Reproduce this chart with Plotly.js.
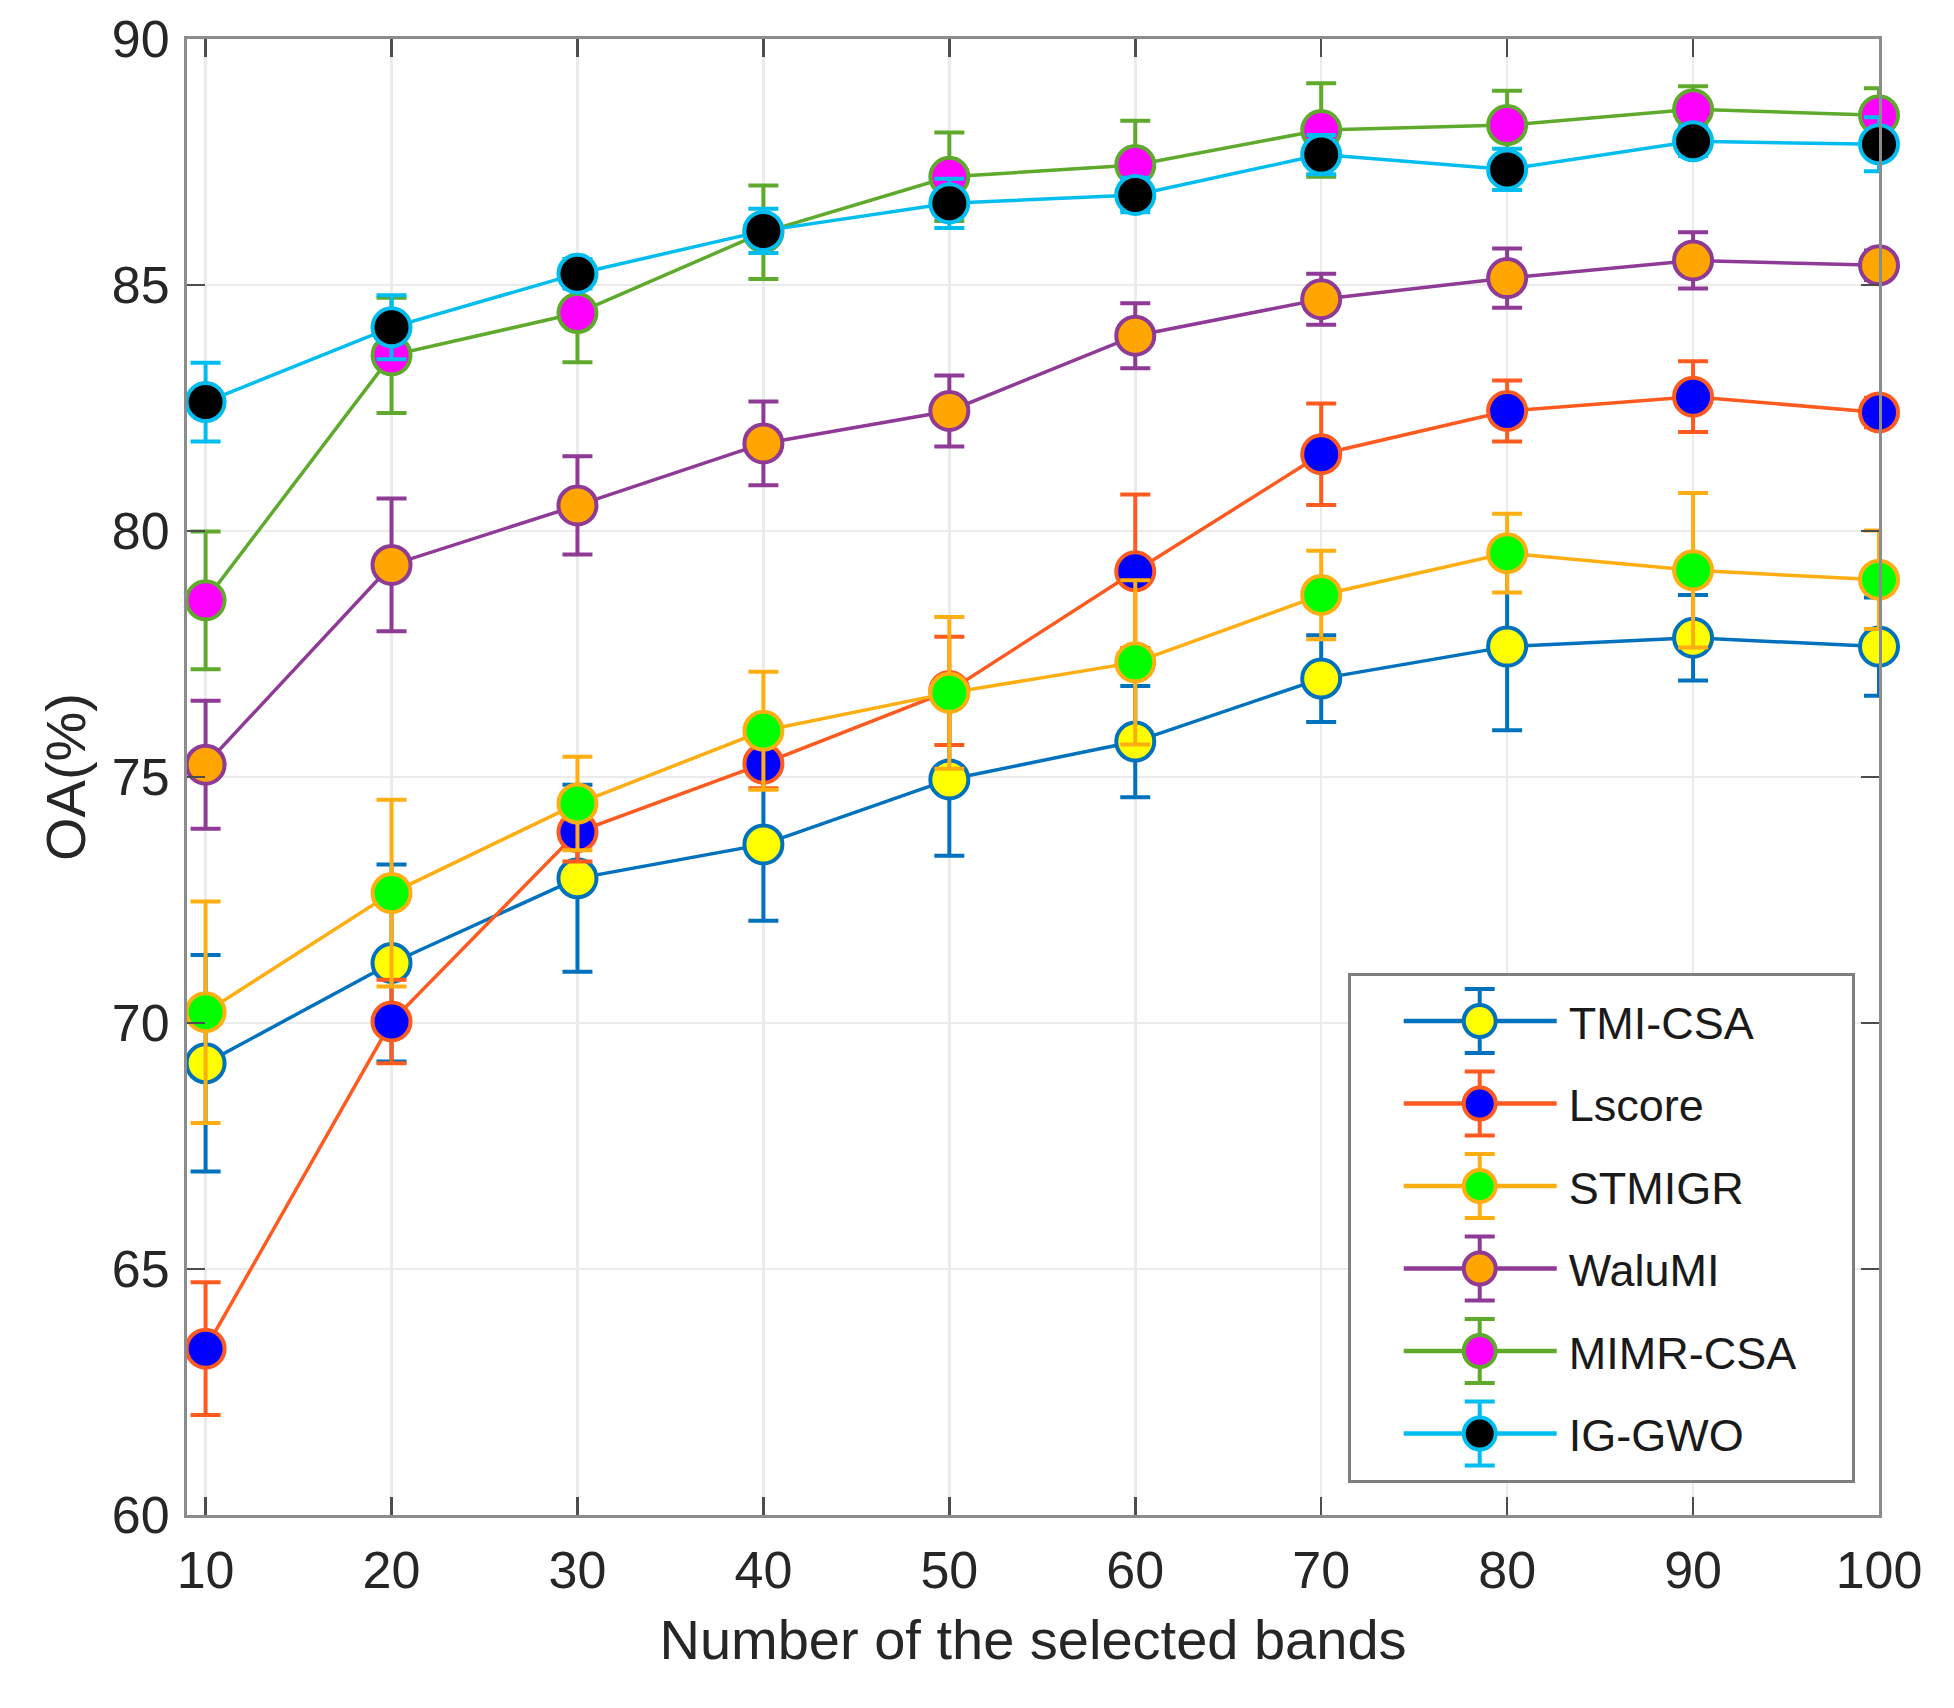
<!DOCTYPE html>
<html>
<head>
<meta charset="utf-8">
<script src="https://cdn.plot.ly/plotly-3.0.1.min.js"></script>
<style>
  html, body { margin: 0; padding: 0; background: #ffffff; }
  #chart { width: 1954px; height: 1708px; }
</style>
</head>
<body>
<div id="chart"></div>
<script>
// Number of selected bands
const bands = [10, 20, 30, 40, 50, 60, 70, 80, 90, 100];

// OA (%) means and standard deviations
const tmiCsa     = [69.18, 71.22, 72.94, 73.63, 74.95, 75.72, 77.00, 77.65, 77.83, 77.65];
const tmiCsaErr  = [2.20, 2.00, 1.90, 1.55, 1.55, 1.13, 0.88, 1.70, 0.87, 1.00];

const lscore     = [63.38, 70.03, 73.88, 75.27, 76.75, 79.18, 81.56, 82.44, 82.73, 82.41];
const lscoreErr  = [1.35, 0.85, 0.60, 0.50, 1.10, 1.56, 1.03, 0.62, 0.72, 0.30];

const stmigr     = [70.22, 72.64, 74.46, 75.94, 76.71, 77.33, 78.70, 79.55, 79.20, 79.01];
const stmigrErr  = [2.25, 1.90, 0.95, 1.20, 1.54, 1.67, 0.90, 0.80, 1.57, 1.00];

const waluMI     = [75.25, 79.31, 80.52, 81.78, 82.44, 83.97, 84.71, 85.14, 85.50, 85.40];
const waluMIErr  = [1.30, 1.35, 1.00, 0.85, 0.72, 0.66, 0.52, 0.60, 0.57, 0.30];

const mimrCsa    = [78.59, 83.57, 84.43, 86.07, 87.20, 87.44, 88.15, 88.25, 88.57, 88.45];
const mimrCsaErr = [1.40, 1.17, 1.00, 0.95, 0.90, 0.90, 0.95, 0.70, 0.47, 0.55];

const igGwo      = [82.62, 84.14, 85.23, 86.10, 86.66, 86.83, 87.65, 87.35, 87.92, 87.86];
const igGwoErr   = [0.80, 0.65, 0.30, 0.45, 0.50, 0.35, 0.40, 0.42, 0.30, 0.55];

const seriesNames = ['TMI-CSA', 'Lscore', 'STMIGR', 'WaluMI', 'MIMR-CSA', 'IG-GWO'];
const xTicks = [10, 20, 30, 40, 50, 60, 70, 80, 90, 100];
const yTicks = [60, 65, 70, 75, 80, 85, 90];

const styles = [
  { line: '#0072BD', fill: '#FFFF00' },
  { line: '#FF5A1F', fill: '#0000FF' },
  { line: '#FFAE12', fill: '#00FF00' },
  { line: '#8E3A96', fill: '#FFA500' },
  { line: '#5FAA2C', fill: '#FF00FF' },
  { line: '#00BDF0', fill: '#000000' }
];

const values = [tmiCsa, lscore, stmigr, waluMI, mimrCsa, igGwo];
const errors = [tmiCsaErr, lscoreErr, stmigrErr, waluMIErr, mimrCsaErr, igGwoErr];

const traces = seriesNames.map((name, i) => ({
  type: 'scatter',
  mode: 'lines+markers',
  name: name,
  legendgroup: 'g' + i,
  x: bands,
  y: values[i],
  cliponaxis: false,
  line: { color: styles[i].line, width: 3.5 },
  marker: {
    symbol: 'circle',
    size: 38,
    color: styles[i].fill,
    line: { color: styles[i].line, width: 4 }
  },
  error_y: {
    type: 'data',
    array: errors[i],
    visible: true,
    color: styles[i].line,
    thickness: 4,
    width: 15
  }
}));

const fontFamily = '"Liberation Sans", Arial, Helvetica, sans-serif';

const layout = {
  width: 1954,
  height: 1708,
  paper_bgcolor: '#ffffff',
  plot_bgcolor: '#ffffff',
  margin: { l: 187, r: 75, t: 39, b: 193, pad: 0 },
  font: { family: fontFamily, color: '#262626', size: 52 },
  showlegend: true,
  xaxis: {
    range: [9, 100],
    tickmode: 'array',
    tickvals: xTicks,
    ticktext: xTicks.map(String),
    ticks: 'inside',
    ticklen: 18,
    tickwidth: 2.5,
    tickcolor: '#4d4d4d',
    showline: true,
    linecolor: '#8c8c8c',
    linewidth: 3,
    mirror: 'ticks',
    showgrid: true,
    gridcolor: '#ebebeb',
    gridwidth: 2.5,
    zeroline: false,
    tickfont: { size: 52, color: '#262626' },
    ticklabelstandoff: 8,
    title: { text: 'Number of the selected bands', font: { size: 56, color: '#262626' }, standoff: 22 }
  },
  yaxis: {
    range: [60, 90],
    tickmode: 'array',
    tickvals: yTicks,
    ticktext: yTicks.map(String),
    ticks: 'inside',
    ticklen: 18,
    tickwidth: 2.5,
    tickcolor: '#4d4d4d',
    showline: true,
    linecolor: '#8c8c8c',
    linewidth: 3,
    mirror: 'ticks',
    showgrid: true,
    gridcolor: '#ebebeb',
    gridwidth: 2.5,
    zeroline: false,
    tickfont: { size: 52, color: '#262626' },
    ticklabelstandoff: 4,
    title: { text: 'OA(%)', font: { size: 56, color: '#262626' }, standoff: 9 }
  },
  legend: {
    x: 0.686,
    y: 0.367,
    xanchor: 'left',
    yanchor: 'top',
    bgcolor: '#ffffff',
    bordercolor: '#7f7f7f',
    borderwidth: 3,
    font: { size: 45, color: '#1a1a1a', family: fontFamily },
    traceorder: 'grouped',
    tracegroupgap: 21,
    itemwidth: 208,
    itemsizing: 'trace'
  }
};

// Restyle legend symbols to MATLAB-like errorbar glyphs (long line, centred marker, error bar)
function styleLegend(gd) {
  const NS = 'http://www.w3.org/2000/svg';
  const items = gd.querySelectorAll('.legend .traces');
  items.forEach((item, i) => {
    const c = styles[i];
    item.querySelectorAll('.legendlines path').forEach(line => {
      line.setAttribute('d', 'M53,0h153');
      line.style.strokeWidth = '4.5px';
    });
    const pts = item.querySelector('.legendpoints');
    if (!pts) return;
    const eb = document.createElementNS(NS, 'path');
    eb.setAttribute('d', 'M129,-32v64M114,-32h30M114,32h30');
    eb.setAttribute('fill', 'none');
    eb.setAttribute('stroke', c.line);
    eb.setAttribute('stroke-width', '4');
    pts.appendChild(eb);
    pts.querySelectorAll('path.scatterpts').forEach(m => {
      m.setAttribute('transform', 'translate(129,0) scale(2)');
      m.style.strokeWidth = '2px';
      pts.appendChild(m);
    });
  });
  const scroll = gd.querySelector('.legend .scrollbox');
  if (scroll) {
    const t = scroll.getAttribute('transform') || '';
    scroll.setAttribute('transform', t + ' translate(0,9)');
  }
  const bg = gd.querySelector('.legend rect.bg');
  if (bg) {
    const w = parseFloat(bg.getAttribute('width'));
    const h = parseFloat(bg.getAttribute('height'));
    bg.setAttribute('width', w + 50);
    bg.setAttribute('height', h + 20);
  }
}

Plotly.newPlot('chart', traces, layout, { staticPlot: true, displayModeBar: false })
  .then(gd => styleLegend(gd));
</script>
</body>
</html>
